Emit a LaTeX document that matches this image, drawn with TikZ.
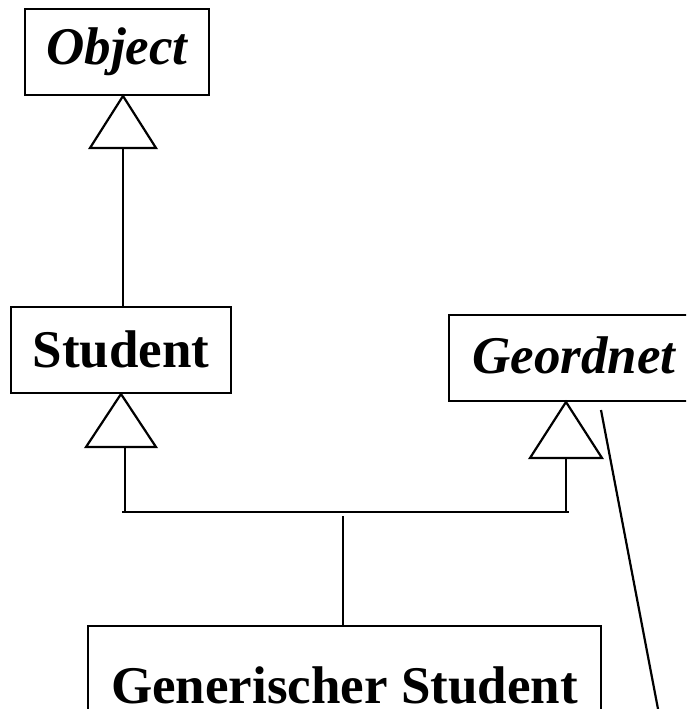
\documentclass[tikz,border=0pt]{standalone}
\usepackage{fontspec}
\setmainfont{Liberation Serif}
\begin{document}
\begin{tikzpicture}[x=1pt,y=-1pt,
  cls/.style={draw,line width=2.2pt,inner sep=0pt,minimum height=86pt,
    text height=36pt,font=\fontsize{53}{60}\selectfont\bfseries},
  abstractcls/.style={cls,font=\fontsize{53}{60}\selectfont\bfseries\itshape},
  link/.style={line width=2.2pt},
  tri/.style={line width=2.2pt,fill=white,line join=miter}]
\useasboundingbox (0,0) rectangle (686,709);
\clip (0,0) rectangle (686,709);

% classes
\node[abstractcls,minimum width=184pt,text depth=10pt] (object) at (117,52) {Object};
\node[cls,minimum width=220pt,text depth=2pt] (student) at (121,350) {Student};
\node[abstractcls,minimum width=250pt,text depth=6pt] (geordnet) at (574,358) {Geordnet};
\node[cls,minimum width=513pt,minimum height=160pt,anchor=north] (generic) at (344.5,625) {};
\node[font=\fontsize{53}{60}\selectfont\bfseries,anchor=base] (genlabel) at (344.5,703) {Generischer Student};

% generalisation triangles
\coordinate (objapex) at (123,96);
\coordinate (stuapex) at (121,394);
\coordinate (geoapex) at (566,402);
\draw[tri] (objapex) -- ++(-33,52) -- ++(66,0) -- cycle;
\draw[tri] (stuapex) -- ++(-35,53) -- ++(70,0) -- cycle;
\draw[tri] (geoapex) -- ++(-36,56) -- ++(72,0) -- cycle;

% connectors
\coordinate (objstem) at (123,148);
\draw[link] (objstem) -- (objstem |- student.north);

\coordinate (stustem) at (125,447);
\coordinate (geostem) at (566,458);
\coordinate (joinL) at (122,512);
\coordinate (joinR) at (569,512);
\draw[link] (stustem) -- (stustem |- joinL);
\draw[link] (geostem) -- (geostem |- joinR);
\draw[link] (joinL) -- (joinR);
\coordinate (genstem) at (343,516);
\draw[link] (genstem) -- (genstem |- generic.north);

% slanted line from Geordnet
\coordinate (slantA) at (601,410);
\coordinate (slantB) at (662,730);
\draw[link] (slantA) -- (slantB);
\end{tikzpicture}
\end{document}
